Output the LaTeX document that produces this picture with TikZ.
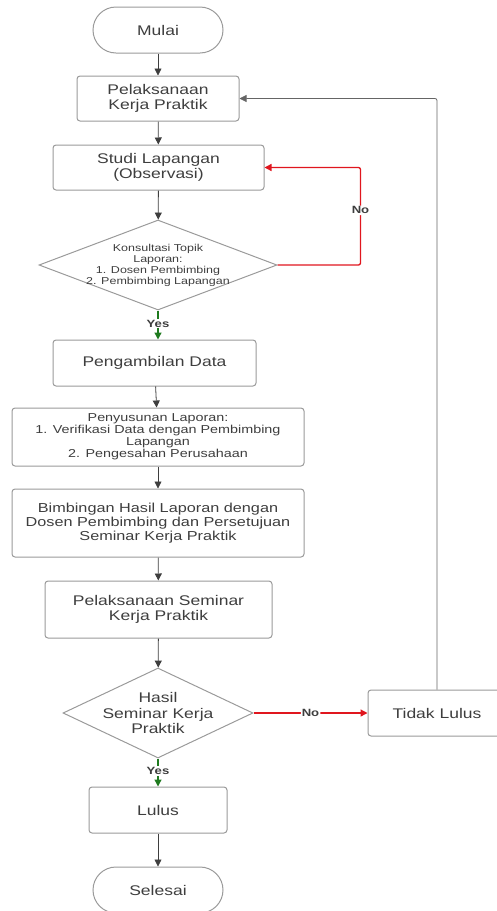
\documentclass[tikz,border=0pt]{standalone}
\usepackage{fontspec}
\setmainfont[FakeStretch=1.25]{Liberation Sans}
\usetikzlibrary{shapes.geometric,arrows.meta}

\definecolor{boxline}{HTML}{9A9A9A}
\definecolor{ink}{HTML}{3E3E3E}
\definecolor{nored}{HTML}{E0161E}
\definecolor{yesgreen}{HTML}{1E7A1E}

\tikzset{
  box/.style={draw=boxline, line width=1pt, rounded corners=3pt, align=center, text=ink,
              font=\fontsize{14}{15.5}\selectfont, inner sep=2pt},
  terminal/.style={box, rounded corners=23pt, minimum width=130pt, minimum height=46pt},
  decision/.style={diamond, draw=boxline, line width=1pt, align=center, text=ink, inner sep=-10pt},
  arrow/.style={draw=ink, thick, -{Triangle[length=7pt,width=7pt]}},
  yesarrow/.style={draw=yesgreen, line width=1.3pt, -{Triangle[length=7pt,width=7pt]}},
  noarrow/.style={draw=nored, line width=1.3pt, rounded corners=2pt, -{Triangle[length=7pt,width=7pt]}},
  answer/.style={fill=white, text=ink, font=\bfseries\fontsize{10.5}{11}\selectfont, inner sep=1pt}
}

\begin{document}
\begin{tikzpicture}[x=1pt, y=-1pt]

 \useasboundingbox (0,0) rectangle (496,911);

 % main column
 \node[terminal] (mulai) at (158,30) {Mulai};
 \node[box, minimum width=162pt, minimum height=45pt] (pel) at (158,98.5) {Pelaksanaan\\Kerja Praktik};
 \node[box, minimum width=211pt, minimum height=45pt] (studi) at (158.5,167.5) {Studi Lapangan\\(Observasi)};
 \node[decision, minimum width=238pt, minimum height=90pt, aspect=2.6,
       font=\fontsize{10}{11}\selectfont] (konsul) at (158,265)
       {Konsultasi Topik\\Laporan:\\1. Dosen Pembimbing\\2. Pembimbing Lapangan};
 \node[box, minimum width=203pt, minimum height=46pt] (data) at (154.5,363) {Pengambilan Data};
 \node[box, minimum width=292pt, minimum height=58pt, font=\fontsize{11.5}{12}\selectfont] (susun) at (158,437)
       {Penyusunan Laporan:\\1. Verifikasi Data dengan Pembimbing\\Lapangan\\2. Pengesahan Perusahaan};
 \node[box, minimum width=292pt, minimum height=68pt, font=\fontsize{13}{14}\selectfont] (bimb) at (158,523)
       {Bimbingan Hasil Laporan dengan\\Dosen Pembimbing dan Persetujuan\\Seminar Kerja Praktik};
 \node[box, minimum width=227pt, minimum height=57pt] (seminar) at (158.5,609.5) {Pelaksanaan Seminar\\Kerja Praktik};
 \node[decision, minimum width=190pt, minimum height=90pt, aspect=2.1,
       font=\fontsize{14}{15.5}\selectfont] (hasil) at (158,713) {Hasil\\Seminar Kerja\\Praktik};
 \node[box, minimum width=138pt, minimum height=46pt] (lulus) at (158,810) {Lulus};
 \node[terminal] (selesai) at (158,890) {Selesai};

 % side
 \node[box, minimum width=138pt, minimum height=46pt] (tidak) at (437,713) {Tidak Lulus};

 % arrows
 \foreach \a/\b in {mulai/pel, pel/studi, studi/konsul, data/susun, susun/bimb, bimb/seminar, seminar/hasil, lulus/selesai}
   \path[arrow] (\a) -- (\b);

 \path[yesarrow] (konsul.south) -- (konsul.south |- data.north) node[answer, pos=0.45] {Yes};
 \path[yesarrow] (hasil.south) -- (lulus.north) node[answer, pos=0.45] {Yes};

 \path[noarrow] (konsul.east) -- ++(83,0) |- (studi.east) node[answer, pos=0.28] {No};
 \path[noarrow] (hasil.east) -- (tidak.west) node[answer, pos=0.5] {No};

 \path[draw=ink!80, thick, rounded corners=2pt, -{Triangle[length=7pt,width=7pt]}] (tidak.north) |- (pel.east);

\end{tikzpicture}
\end{document}
